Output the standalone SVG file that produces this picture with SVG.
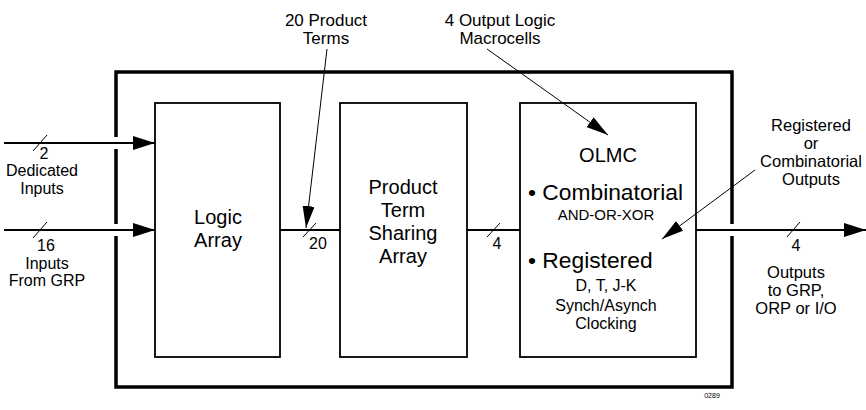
<svg xmlns="http://www.w3.org/2000/svg" width="866" height="410" viewBox="0 0 866 410">
<style>
text{font-family:"Liberation Sans",Arial,sans-serif;fill:#000;text-anchor:middle}
.l{font-size:16px}
.tp{font-size:17px}
.r{font-size:16.5px}
.b{font-size:20px}
.s{font-size:15px}
.box{fill:#fff;stroke:#000;stroke-width:1.8}
.w{stroke:#000;stroke-width:2;fill:none}
.t{stroke:#000;stroke-width:1;fill:none}
</style>
<defs>
<marker id="big" markerWidth="22" markerHeight="14" refX="22" refY="7" orient="auto" markerUnits="userSpaceOnUse"><path d="M0,0L22,7L0,14z" fill="#000"/></marker>
<marker id="sm" markerWidth="22" markerHeight="12" refX="22" refY="6" orient="auto" markerUnits="userSpaceOnUse"><path d="M0,0L22,6L0,12z" fill="#000"/></marker>
</defs>
<g id="outer"><rect x="116" y="72" width="616" height="315" fill="none" stroke="#000" stroke-width="3.5"/></g>
<g id="logic-array"><rect class="box" x="155" y="103" width="125" height="254"/><text class="b" x="218" y="224">Logic</text><text class="b" x="218" y="247">Array</text></g>
<g id="pts-array"><rect class="box" x="340" y="103" width="127" height="254"/><text class="b" x="403" y="194">Product</text><text class="b" x="403" y="217">Term</text><text class="b" x="403" y="240">Sharing</text><text class="b" x="403" y="263">Array</text></g>
<g id="olmc"><rect class="box" x="520" y="103" width="176" height="254"/>
<text class="b" x="608" y="162">OLMC</text>
<text x="528" y="200" style="font-size:22.8px;text-anchor:start">• Combinatorial</text>
<text class="s" x="606" y="220">AND-OR-XOR</text>
<text x="528" y="268" style="font-size:22.8px;text-anchor:start">• Registered</text>
<text class="l" x="606" y="291">D, T, J-K</text>
<text class="l" x="606" y="311">Synch/Asynch</text>
<text class="l" x="606" y="329">Clocking</text>
</g>
<g id="connectors">
<rect x="110" y="137" width="12" height="12" fill="#fff"/>
<rect x="110" y="224" width="12" height="12" fill="#fff"/>
<rect x="726" y="224" width="12" height="12" fill="#fff"/>
<line class="w" x1="4" y1="143" x2="155" y2="143" marker-end="url(#big)"/>
<line class="w" x1="4" y1="230" x2="155" y2="230" marker-end="url(#big)"/>
<line class="w" x1="280" y1="230" x2="340" y2="230"/>
<line class="w" x1="467" y1="230" x2="520" y2="230"/>
<line class="w" x1="696" y1="230" x2="866" y2="230" marker-end="url(#big)"/>
<line class="t" x1="33" y1="151" x2="47" y2="135"/>
<line class="t" x1="33" y1="238" x2="47" y2="222"/>
<line class="t" x1="303" y1="237" x2="316" y2="223"/>
<line class="t" x1="487" y1="237" x2="500" y2="223"/>
<line class="t" x1="787" y1="237" x2="800" y2="222"/>
<line class="t" x1="327" y1="49" x2="306" y2="228" marker-end="url(#sm)"/>
<line class="t" x1="487" y1="49" x2="608" y2="135" marker-end="url(#sm)"/>
<line class="t" x1="755" y1="170" x2="662" y2="239" marker-end="url(#sm)"/>
</g>
<g id="labels">
<text class="l" x="44" y="159">2</text>
<text class="l" x="42" y="176">Dedicated</text>
<text class="l" x="42" y="194">Inputs</text>
<text class="l" x="46" y="251">16</text>
<text class="l" x="47" y="269">Inputs</text>
<text class="l" x="47" y="286">From GRP</text>
<text class="tp" x="326" y="26">20 Product</text>
<text class="tp" x="326" y="44">Terms</text>
<text class="tp" x="500" y="26">4 Output Logic</text>
<text class="tp" x="500" y="44">Macrocells</text>
<text class="l" x="318" y="249">20</text>
<text class="l" x="497" y="249">4</text>
<text class="l" x="796" y="251">4</text>
<text class="r" x="796" y="278">Outputs</text>
<text class="r" x="796" y="296">to GRP,</text>
<text class="r" x="796" y="314">ORP or I/O</text>
<text class="r" x="811" y="131">Registered</text>
<text class="r" x="811" y="149">or</text>
<text class="r" x="811" y="167">Combinatorial</text>
<text class="r" x="811" y="185">Outputs</text>
<text x="712" y="398" style="font-size:7px">0289</text>
</g>
</svg>
